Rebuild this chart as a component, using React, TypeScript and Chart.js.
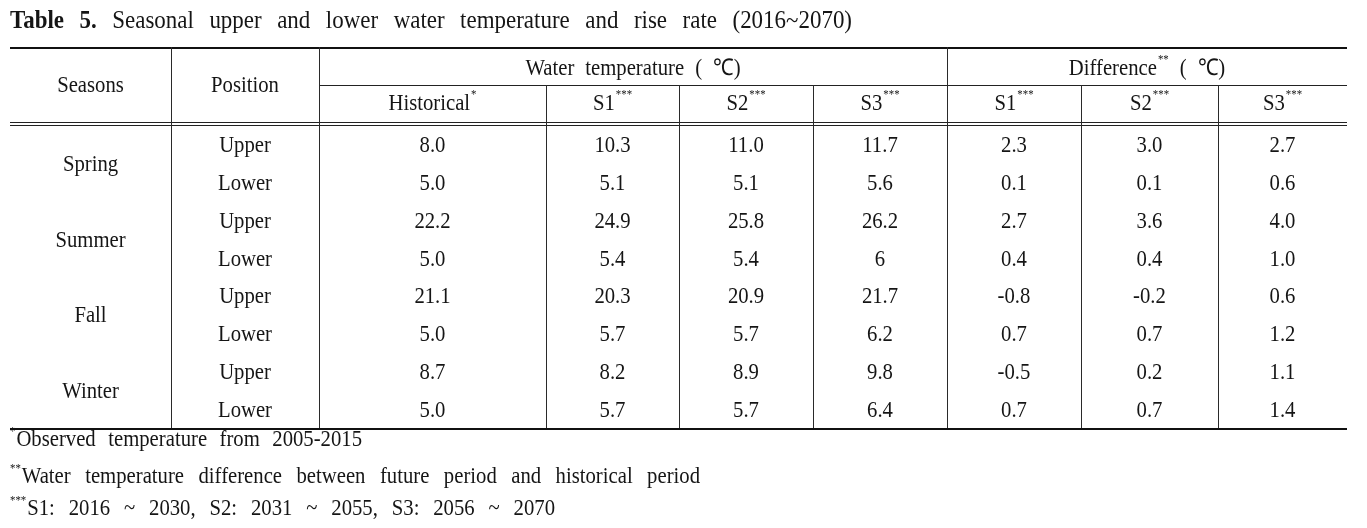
import React, { useEffect, useRef } from "react";
import { Chart, registerables } from "chart.js";

Chart.register(...registerables);

// ---------- data ----------
const titleBold = "Table 5.";
const titleText = "Seasonal upper and lower water temperature and rise rate (2016~2070)";

const seasons = ["Spring", "Summer", "Fall", "Winter"];
const positions = ["Upper", "Lower"];

const headSeasons = "Seasons";
const headPosition = "Position";
const groupHeaders = ["Water temperature ( ℃)", "Difference ( ℃)"];
const groupHeaderSups = ["", "**"];
const subHeaders = ["Historical", "S1", "S2", "S3", "S1", "S2", "S3"];
const subHeaderSups = ["*", "***", "***", "***", "***", "***", "***"];

const historical = ["8.0", "5.0", "22.2", "5.0", "21.1", "5.0", "8.7", "5.0"];
const s1 = ["10.3", "5.1", "24.9", "5.4", "20.3", "5.7", "8.2", "5.7"];
const s2 = ["11.0", "5.1", "25.8", "5.4", "20.9", "5.7", "8.9", "5.7"];
const s3 = ["11.7", "5.6", "26.2", "6", "21.7", "6.2", "9.8", "6.4"];
const diffS1 = ["2.3", "0.1", "2.7", "0.4", "-0.8", "0.7", "-0.5", "0.7"];
const diffS2 = ["3.0", "0.1", "3.6", "0.4", "-0.2", "0.7", "0.2", "0.7"];
const diffS3 = ["2.7", "0.6", "4.0", "1.0", "0.6", "1.2", "1.1", "1.4"];

const footnoteMarks = ["*", "**", "***"];
const footnoteTexts = [
  "Observed temperature from 2005-2015",
  "Water temperature difference between future period and historical period",
  "S1: 2016 ~ 2030, S2: 2031 ~ 2055, S3: 2056 ~ 2070",
];

// ---------- layout (scale units) ----------
const W = 1367;
const H = 528;
const colEdges = [10, 171, 319, 546, 679, 813, 947, 1081, 1218, 1347];
const Y_TOP = 47;
const Y_MID = 85;
const Y_DBL1 = 122;
const Y_DBL2 = 125;
const Y_BOT = 428;
const TITLE_Y = 21;
const TITLE_END = 852;
const FOOT_Y = [440, 477, 509];
const FOOT_END = [362, 700, 555];

const FAM = "'Liberation Serif', 'Times New Roman', serif";
const BODY_SX = 0.9;
const FS = 23;
const TITLE_FS = 25.5;
const TITLE_SX = 0.9;
const SUPFS = 12;
const INK = "#151515";
const GAP = 11;

let SX = BODY_SX;

type Word = { t: string; sup?: string; pre?: string; bold?: boolean };

function font(ctx: CanvasRenderingContext2D, size: number, bold?: boolean) {
  ctx.font = `${bold ? "bold " : ""}${size}px ${FAM}`;
}

function wordWidth(ctx: CanvasRenderingContext2D, w: Word, size: number) {
  let total = 0;
  if (w.pre) {
    font(ctx, SUPFS);
    total += ctx.measureText(w.pre).width * SX + 1;
  }
  font(ctx, size, w.bold);
  total += ctx.measureText(w.t).width * SX;
  if (w.sup) {
    font(ctx, SUPFS);
    total += ctx.measureText(w.sup).width * SX + 1;
  }
  return total;
}

function drawWord(ctx: CanvasRenderingContext2D, w: Word, x: number, y: number, size: number) {
  let cx = x;
  ctx.textAlign = "left";
  ctx.textBaseline = "middle";
  if (w.pre) {
    font(ctx, SUPFS);
    ctx.save();
    ctx.translate(cx, y - 8);
    ctx.scale(SX, 1);
    ctx.fillText(w.pre, 0, 0);
    ctx.restore();
    cx += ctx.measureText(w.pre).width * SX + 1;
  }
  font(ctx, size, w.bold);
  ctx.save();
  ctx.translate(cx, y);
  ctx.scale(SX, 1);
  ctx.fillText(w.t, 0, 0);
  ctx.restore();
  cx += ctx.measureText(w.t).width * SX;
  if (w.sup) {
    cx += 1;
    font(ctx, SUPFS);
    ctx.save();
    ctx.translate(cx, y - 9);
    ctx.scale(SX, 1);
    ctx.fillText(w.sup, 0, 0);
    ctx.restore();
  }
}

function drawRun(
  ctx: CanvasRenderingContext2D,
  words: Word[],
  x: number,
  y: number,
  align: "left" | "center",
  gap: number,
  size = FS
) {
  const ws = words.map((w) => wordWidth(ctx, w, size));
  const total = ws.reduce((a, b) => a + b, 0) + gap * (words.length - 1);
  let cx = align === "center" ? x - total / 2 : x;
  words.forEach((w, i) => {
    drawWord(ctx, w, cx, y, size);
    cx += ws[i] + gap;
  });
}

function fitGap(ctx: CanvasRenderingContext2D, words: Word[], width: number, size = FS) {
  const ws = words.map((w) => wordWidth(ctx, w, size));
  const sum = ws.reduce((a, b) => a + b, 0);
  return Math.max(4, (width - sum) / Math.max(1, words.length - 1));
}

function toWords(text: string, sup?: string): Word[] {
  const parts = text.split(" ");
  return parts.map((t, i) => ({ t, sup: i === 0 && sup ? sup : undefined }));
}

const tablePlugin = {
  id: "tablePlugin",
  afterDraw(chart: any) {
    const ctx: CanvasRenderingContext2D = chart.ctx;
    const xs = chart.scales.x;
    const ys = chart.scales.y;
    const px = (v: number) => xs.getPixelForValue(v);
    const py = (v: number) => ys.getPixelForValue(v);
    ctx.save();
    ctx.fillStyle = INK;

    // title
    SX = TITLE_SX;
    const tWords: Word[] = [
      ...titleBold.split(" ").map((t) => ({ t, bold: true })),
      ...titleText.split(" ").map((t) => ({ t })),
    ];
    const tGap = fitGap(ctx, tWords, px(TITLE_END) - px(colEdges[0]), TITLE_FS);
    drawRun(ctx, tWords, px(colEdges[0]), py(TITLE_Y), "left", tGap, TITLE_FS);
    SX = BODY_SX;

    // lines
    const hline = (x1: number, x2: number, y: number, lw: number, col: string) => {
      ctx.beginPath();
      ctx.strokeStyle = col;
      ctx.lineWidth = lw;
      ctx.moveTo(px(x1), py(y));
      ctx.lineTo(px(x2), py(y));
      ctx.stroke();
    };
    const vline = (x: number, y1: number, y2: number) => {
      ctx.beginPath();
      ctx.strokeStyle = "#2a2a2a";
      ctx.lineWidth = 1;
      ctx.moveTo(Math.round(px(x)) + 0.5, py(y1));
      ctx.lineTo(Math.round(px(x)) + 0.5, py(y2));
      ctx.stroke();
    };
    const L = colEdges[0];
    const R = colEdges[colEdges.length - 1];
    hline(L, R, Y_TOP + 1, 2, "#111");
    hline(colEdges[2], R, Y_MID + 0.5, 1, "#222");
    hline(L, R, Y_DBL1 + 0.5, 1.2, "#222");
    hline(L, R, Y_DBL2 + 0.5, 1.2, "#222");
    hline(L, R, Y_BOT + 1, 2, "#111");
    [1, 2, 6].forEach((i) => vline(colEdges[i], Y_TOP, Y_BOT));
    [3, 4, 5, 7, 8].forEach((i) => vline(colEdges[i], Y_MID, Y_BOT));

    const cx = (i: number) => px((colEdges[i] + colEdges[i + 1]) / 2);

    // headers
    ctx.fillStyle = INK;
    drawRun(ctx, [{ t: headSeasons }], cx(0), py(86), "center", GAP);
    drawRun(ctx, [{ t: headPosition }], cx(1), py(86), "center", GAP);
    drawRun(ctx, toWords(groupHeaders[0], groupHeaderSups[0]), px((colEdges[2] + colEdges[6]) / 2), py(69), "center", GAP);
    drawRun(ctx, toWords(groupHeaders[1], groupHeaderSups[1]), px((colEdges[6] + colEdges[9]) / 2), py(69), "center", GAP);
    subHeaders.forEach((h, i) => {
      drawRun(ctx, [{ t: h, sup: subHeaderSups[i] }], cx(i + 2), py(104), "center", GAP);
    });

    // body
    const rowH = (Y_BOT - Y_DBL2) / (seasons.length * positions.length);
    const cols = [historical, s1, s2, s3, diffS1, diffS2, diffS3];
    seasons.forEach((s, si) => {
      const yS = Y_DBL2 + (si * 2 + 1) * rowH;
      drawRun(ctx, [{ t: s }], cx(0), py(yS + 2), "center", GAP);
      positions.forEach((p, pi) => {
        const r = si * 2 + pi;
        const yR = Y_DBL2 + (r + 0.5) * rowH + 2;
        drawRun(ctx, [{ t: p }], cx(1), py(yR), "center", GAP);
        cols.forEach((col, ci) => {
          drawRun(ctx, [{ t: col[r] }], cx(ci + 2), py(yR), "center", GAP);
        });
      });
    });

    // footnotes
    footnoteTexts.forEach((t, i) => {
      const words = toWords(t);
      words[0] = { ...words[0], pre: footnoteMarks[i] };
      const g = fitGap(ctx, words, px(FOOT_END[i]) - px(L));
      drawRun(ctx, words, px(L), py(FOOT_Y[i]), "left", g);
    });
    ctx.restore();
  },
};

export default function App() {
  const ref = useRef<HTMLCanvasElement | null>(null);
  useEffect(() => {
    if (!ref.current) return;
    const chart = new Chart(ref.current, {
      type: "scatter",
      data: { datasets: [{ data: [], pointRadius: 0 }] },
      options: {
        animation: false,
        responsive: false,
        maintainAspectRatio: false,
        layout: { padding: 0 },
        plugins: { legend: { display: false }, tooltip: { enabled: false } },
        scales: {
          x: { type: "linear", min: 0, max: W, display: false },
          y: { type: "linear", min: 0, max: H, reverse: true, display: false },
        },
      },
      plugins: [tablePlugin],
    });
    return () => chart.destroy();
  }, []);
  return (
    <div style={{ position: "absolute", left: 0, top: 0, width: W, height: H, background: "#fff" }}>
      <canvas ref={ref} width={W} height={H} style={{ display: "block" }} />
    </div>
  );
}
